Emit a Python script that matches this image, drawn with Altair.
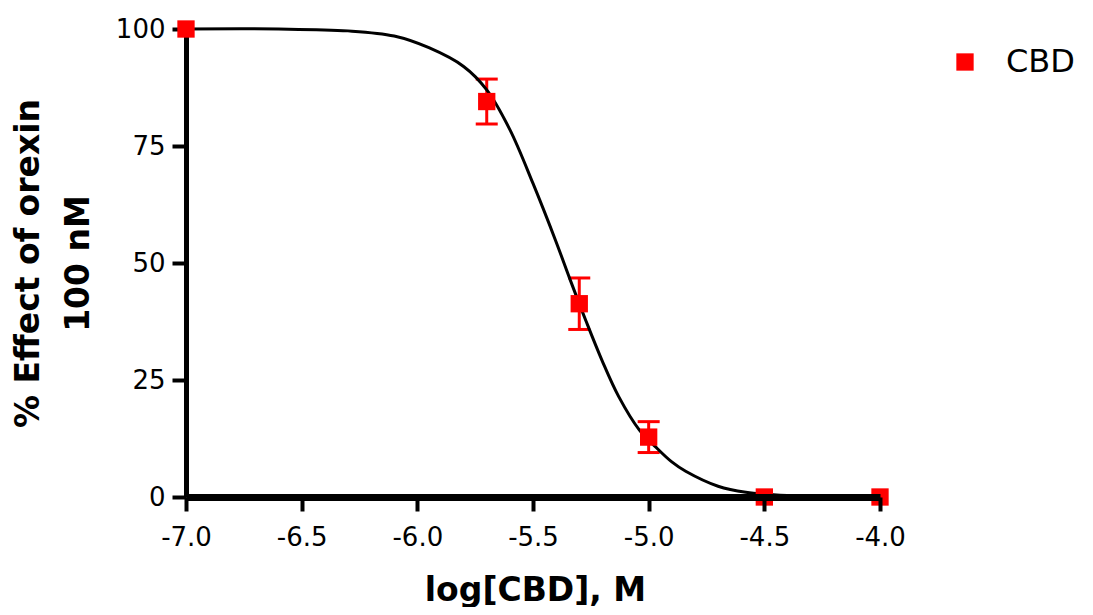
import altair as alt
import pandas as pd

# measured points
log_conc = [-7.0, -5.7, -5.3, -5.0, -4.5, -4.0]
effect = [100.0, 84.5, 41.3, 12.8, 0.0, 0.0]
sem = [0.0, 4.8, 5.5, 3.3, 0.0, 0.0]
series_name = "CBD"

# fitted curve
fit_x = [-7.0, -6.6, -6.3, -6.1, -5.95, -5.8, -5.7, -5.6, -5.5, -5.4, -5.34,
         -5.27, -5.2, -5.13, -5.04, -4.97, -4.9, -4.84, -4.7, -4.58, -4.4, -4.2, -4.0]
fit_y = [100.0, 100.0, 99.6, 98.5, 96.0, 92.0, 87.0, 78.5, 67.0, 54.5, 46.5,
         37.5, 29.0, 21.5, 14.3, 10.7, 7.5, 5.5, 2.3, 1.0, 0.3, 0.1, 0.0]

x_ticks = [-7.0, -6.5, -6.0, -5.5, -5.0, -4.5, -4.0]
y_ticks = [0, 25, 50, 75, 100]

pts = pd.DataFrame({"x": log_conc, "y": effect, "err": sem, "series": [series_name] * len(log_conc)})
pts["lo"] = pts["y"] - pts["err"]
pts["hi"] = pts["y"] + pts["err"]
bars = pts[pts["err"] > 0]
fit = pd.DataFrame({"x": fit_x, "y": fit_y})

W, H = 694, 468
RED = "#ff0000"

x_scale = alt.Scale(domain=[-7, -4], nice=False, zero=False)
y_scale = alt.Scale(domain=[0, 100], nice=False)

x_axis = alt.Axis(
    values=x_ticks,
    labelExpr="replace(format(datum.value, '.1f'), '\u2212', '-')",
    title="log[CBD], M",
    titleX=349, titleY=103, titleAlign="center", titleBaseline="alphabetic",
    titleFont="DejaVu Sans", titleFontSize=33, titleFontWeight="bold", titleColor="black",
    labelFont="DejaVu Sans", labelFontSize=26, labelColor="black",
    labelBaseline="alphabetic", labelPadding=34, labelFlush=False, labelOverlap=False,
    domainColor="black", domainWidth=7, tickColor="black", tickWidth=4, tickSize=14,
    grid=False, zindex=1,
)
y_axis = alt.Axis(
    values=y_ticks,
    title=["% Effect of orexin", "100 nM"],
    titleX=-148, titleY=H / 2, titleAngle=-90, titleAlign="center", titleBaseline="alphabetic",
    titleLineHeight=50,
    titleFont="DejaVu Sans", titleFontSize=33, titleFontWeight="bold", titleColor="black",
    labelFont="DejaVu Sans", labelFontSize=26, labelColor="black",
    labelPadding=7, labelFlush=False, labelOverlap=False,
    domainColor="black", domainWidth=5, tickColor="black", tickWidth=4, tickSize=14,
    grid=False, zindex=0,
)

X = alt.X("x:Q", scale=x_scale, axis=x_axis)

err_rule = alt.Chart(bars).mark_rule(color=RED, strokeWidth=3, opacity=1).encode(
    x=X,
    y=alt.Y("lo:Q", scale=y_scale, axis=y_axis),
    y2="hi:Q",
)
cap_lo = alt.Chart(bars).mark_tick(color=RED, thickness=3, size=22, orient="horizontal", opacity=1).encode(
    x=X, y=alt.Y("lo:Q", scale=y_scale, axis=y_axis)
)
cap_hi = alt.Chart(bars).mark_tick(color=RED, thickness=3, size=22, orient="horizontal", opacity=1).encode(
    x=X, y=alt.Y("hi:Q", scale=y_scale, axis=y_axis)
)
curve = alt.Chart(fit).mark_line(color="black", strokeWidth=3, interpolate="catmull-rom").encode(
    x=X, y=alt.Y("y:Q", scale=y_scale, axis=y_axis)
)
points = alt.Chart(pts).mark_square(size=300, opacity=1, filled=True).encode(
    x=X,
    y=alt.Y("y:Q", scale=y_scale, axis=y_axis),
    color=alt.Color(
        "series:N",
        scale=alt.Scale(domain=[series_name], range=[RED]),
        legend=alt.Legend(
            title=None, orient="none", legendX=763, legendY=17, padding=0,
            symbolType="square", symbolSize=300, symbolStrokeWidth=0, symbolOpacity=1,
            labelFont="DejaVu Sans", labelFontSize=32, labelColor="black", labelOffset=25,
        ),
    ),
)

chart = alt.layer(err_rule, cap_lo, cap_hi, curve, points).properties(
    width=W, height=H,
    autosize=alt.AutoSizeParams(type="none"),
    padding={"left": 178, "top": 21, "right": 205, "bottom": 110},
    background="white",
).configure_view(stroke=None)

chart.save("out.html", embed_options={"renderer": "svg", "actions": False})
